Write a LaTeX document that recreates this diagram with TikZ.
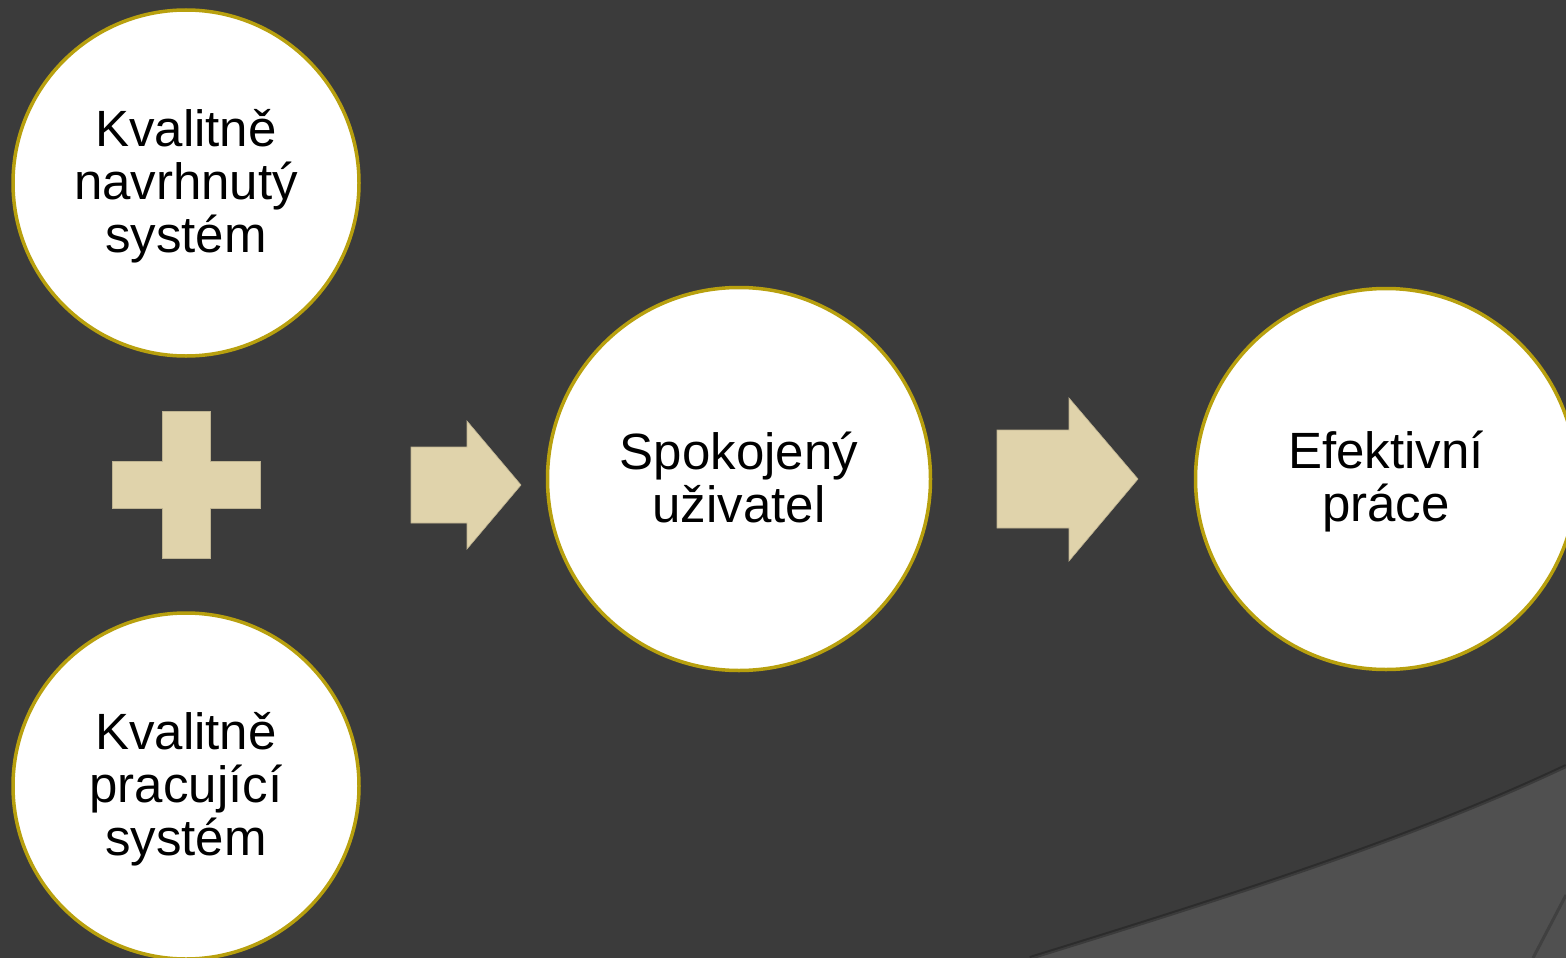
\documentclass[tikz,border=0pt]{standalone}
\usepackage{fontspec}
\setmainfont{Liberation Sans}
\definecolor{bg}{HTML}{3B3B3B}
\definecolor{bglight}{HTML}{505050}
\definecolor{gold}{HTML}{B8A00E}
\definecolor{sand}{HTML}{E0D3AB}
\begin{document}
\begin{tikzpicture}[x=1pt,y=-1pt,
  bubble/.style={circle,draw=gold,line width=3.5pt,fill=white,inner sep=0pt},
  caption/.style={align=center,font=\fontsize{51}{53}\selectfont,text=black,inner sep=0pt},
  shapefill/.style={fill=sand,draw=sand!85!black,line width=0.6pt}]
\fill[bg] (0,0) rectangle (1566,958);
\useasboundingbox (0,0) rectangle (1566,958);
\fill[bglight] (1030,958) .. controls (1250,890) and (1420,835) .. (1566,766) -- (1566,958) -- cycle;
\draw[black,line width=4pt,opacity=0.25] (1030,958) .. controls (1250,890) and (1420,835) .. (1566,766);
\draw[black,line width=3pt,opacity=0.2] (1533,958) -- (1566,895);
\node[bubble,minimum size=346pt] (c1) at (186,183) {};
\node[bubble,minimum size=346pt] (c2) at (186,786) {};
\node[bubble,minimum size=383pt] (c3) at (739,479) {};
\node[bubble,minimum size=381pt] (c4) at (1386,479) {};
\node[caption] (t1) at ([yshift=-3pt]c1.center) {Kvalitně\\navrhnutý\\systém};
\node[caption] (t2) at ([yshift=-3pt]c2.center) {Kvalitně\\pracující\\systém};
\node[caption] (t3) at ([yshift=2pt]c3.center) {Spokojený\\uživatel};
\node[caption] (t4) at ([yshift=-3pt]c4.center) {Efektivní\\práce};
\fill[shapefill] (162,411) -- (210,411) -- (210,461) -- (260,461) -- (260,508) -- (210,508) -- (210,558) -- (162,558) -- (162,508) -- (112,508) -- (112,461) -- (162,461) -- cycle;
\fill[shapefill] (411,447) -- (467,447) -- (467,421) -- (521,485) -- (467,549) -- (467,523) -- (411,523) -- cycle;
\fill[shapefill] (997,430) -- (1069,430) -- (1069,398) -- (1138,479) -- (1069,561) -- (1069,528) -- (997,528) -- cycle;
\end{tikzpicture}
\end{document}
